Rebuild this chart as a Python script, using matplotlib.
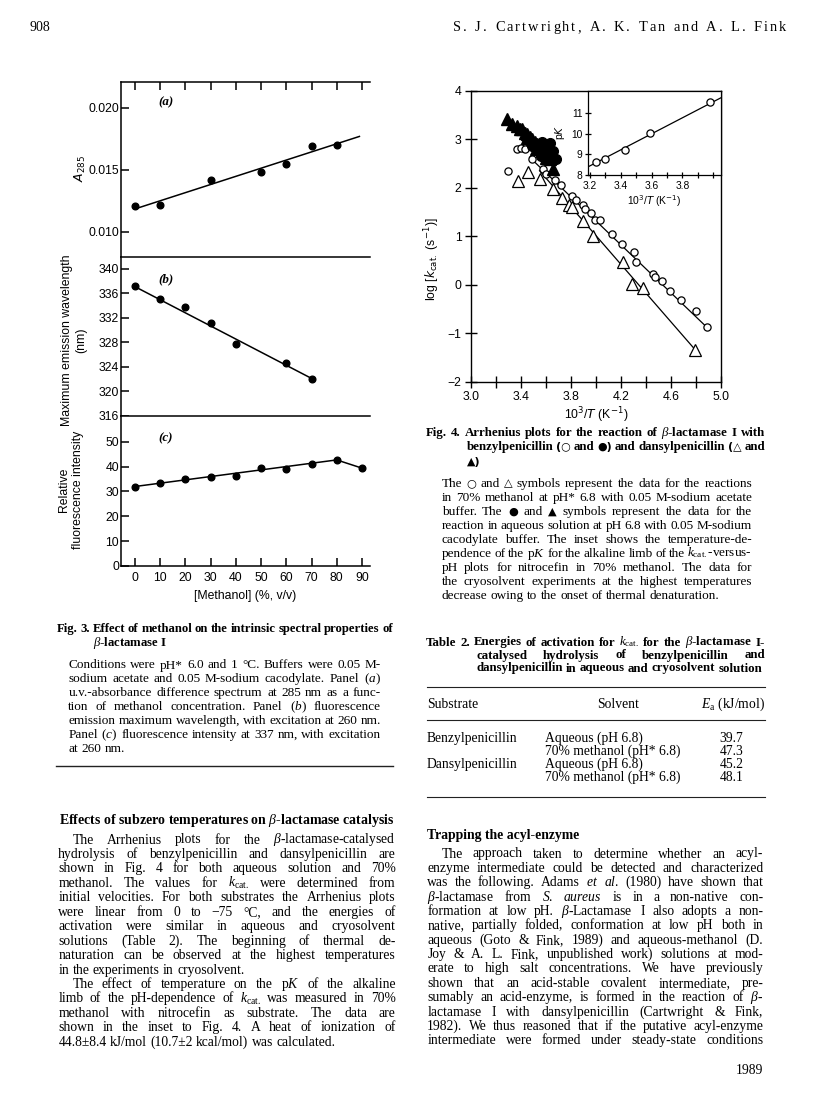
import matplotlib
matplotlib.use('Agg')
import matplotlib.pyplot as plt
from matplotlib.ticker import MultipleLocator, FixedLocator

plt.rcParams['font.family'] = 'Liberation Serif'
plt.rcParams['mathtext.fontset'] = 'custom'
plt.rcParams['mathtext.rm'] = 'Liberation Serif'
plt.rcParams['mathtext.it'] = 'Liberation Serif:italic'
plt.rcParams['mathtext.bf'] = 'Liberation Serif:bold'

W, H = 816, 1097
SANS = ['Liberation Sans', 'DejaVu Sans']
SYMBOLS = '\u25cb\u25cf\u25b3\u25b2'

############################### DATA ###############################
# Fig. 3 (a) absorbance at 285 nm
meth_a = [0, 10, 30, 50, 60, 70, 80]
a285 = [0.01207, 0.01215, 0.01414, 0.01484, 0.01548, 0.01694, 0.01700]
fit_a_x = [0, 89]
fit_a_y = [0.01185, 0.01769]
# Fig. 3 (b) emission maximum
meth_b = [0, 10, 20, 30, 40, 60, 70]
lam_max = [337.2, 335.1, 333.75, 331.1, 327.8, 324.55, 322.0]
fit_b_x = [0, 70]
fit_b_y = [337.1, 322.1]
# Fig. 3 (c) fluorescence intensity
meth_c = [0, 10, 20, 30, 40, 50, 60, 70, 80, 90]
fluor = [32.0, 33.3, 34.9, 36.0, 36.4, 39.5, 39.1, 41.2, 42.7, 39.4]
fit_c_x = [0, 80, 90]
fit_c_y = [32.0, 42.7, 39.4]
meth_ticks = [0, 10, 20, 30, 40, 50, 60, 70, 80, 90]

# Fig. 4 Arrhenius plots
benz_meoh_x = [3.298, 3.373, 3.399, 3.434, 3.487, 3.575, 3.60, 3.674, 3.72, 3.807,
               3.84, 3.895, 3.916, 3.96, 3.996, 4.033, 4.126, 4.206, 4.302, 4.323,
               4.454, 4.472, 4.531, 4.592, 4.677, 4.797, 4.885]
benz_meoh_y = [2.35, 2.79, 2.81, 2.79, 2.59, 2.38, 2.29, 2.15, 2.06, 1.82,
               1.75, 1.65, 1.56, 1.47, 1.34, 1.34, 1.04, 0.84, 0.68, 0.47,
               0.23, 0.16, 0.07, -0.14, -0.32, -0.55, -0.87]
dans_meoh_x = [3.381, 3.455, 3.554, 3.655, 3.727, 3.788, 3.807, 3.90, 3.98, 4.214,
               4.286, 4.379, 4.792]
dans_meoh_y = [2.13, 2.33, 2.18, 1.97, 1.78, 1.64, 1.60, 1.32, 1.01, 0.47,
               0.02, -0.06, -1.35]
dans_aq_x = [3.293, 3.33, 3.367, 3.39, 3.407, 3.43, 3.447, 3.47, 3.487, 3.51,
             3.527, 3.55, 3.58, 3.607, 3.634, 3.66, 3.45, 3.52, 3.60]
dans_aq_y = [3.41, 3.32, 3.28, 3.20, 3.21, 3.12, 3.10, 3.05, 3.00, 2.95,
             2.90, 2.85, 2.79, 2.69, 2.59, 2.38, 3.02, 2.80, 2.62]
benz_aq_x = [3.45, 3.49, 3.52, 3.55, 3.57, 3.60, 3.62, 3.64, 3.66, 3.68, 3.56, 3.63]
benz_aq_y = [3.00, 2.85, 2.90, 2.78, 2.95, 2.72, 2.85, 2.65, 2.75, 2.60, 2.66, 2.92]
fit_benz_x = [3.47, 4.90]
fit_benz_y = [2.63, -0.91]
fit_dans_x = [3.55, 4.80]
fit_dans_y = [2.35, -1.36]

# Fig. 4 inset: pK vs 1/T
inv_t = [3.239, 3.297, 3.43, 3.589, 3.98]
pk = [8.61, 8.77, 9.21, 10.04, 11.51]
fit_pk_x = [3.19, 4.05]
fit_pk_y = [8.40, 11.73]

# Table 2
tab_substrate = ['Benzylpenicillin', '', 'Dansylpenicillin', '']
tab_solvent = ['Aqueous (pH 6.8)', '70% methanol (pH* 6.8)',
               'Aqueous (pH 6.8)', '70% methanol (pH* 6.8)']
tab_ea = ['39.7', '47.3', '45.2', '48.1']

############################## FIGURE ##############################
fig = plt.figure(figsize=(W / 100, H / 100), dpi=100)
renderer = fig.canvas.get_renderer()


def ax_px(x0, y0, x1, y1):
    return fig.add_axes([x0 / W, 1 - y1 / H, (x1 - x0) / W, (y1 - y0) / H])


def txt(x, y, s, **kw):
    kw.setdefault('va', 'baseline')
    return fig.text(x / W, 1 - y / H, s, **kw)


def line_px(x0, x1, y, lw=0.8):
    fig.add_artist(plt.Line2D([x0 / W, x1 / W], [1 - y / H, 1 - y / H],
                              color='#222222', lw=lw))


def place_words(s, x0, x1, y, justify, size, sep=' ', **kw):
    words = s.split(' ') if sep == ' ' else list(s)
    objs = []
    for w in words:
        fam = ['DejaVu Sans'] if any(c in SYMBOLS for c in w) else 'Liberation Serif'
        fs = size * 0.85 if fam != 'Liberation Serif' else size
        objs.append(txt(0, y, w, ha='left', fontsize=fs, family=fam, **kw))
    widths = [o.get_window_extent(renderer).width for o in objs]
    if sep != ' ':
        widths = [0.3 * size * 100 / 72 if w == ' ' else wd for w, wd in zip(words, widths)]
    gap = 0.25 * size * 100 / 72 if sep == ' ' else 0
    if justify and len(words) > 1:
        gap = max((x1 - x0 - sum(widths)) / (len(words) - 1), 1.6 if sep == ' ' else 0)
    x = x0
    for o, w in zip(objs, widths):
        o.set_position((x / W, 1 - y / H))
        x += w + gap


def paragraph(lines, x0, x1, y0, dy, size, indent=14, justify_last=False, **kw):
    for i, s in enumerate(lines):
        start = x0
        if s.startswith('>'):
            s = s[1:]
            start = x0 + indent
        last = (i == len(lines) - 1) or lines[i + 1].startswith('>')
        place_words(s, start, x1, y0 + i * dy, justify_last or not last, size, **kw)


# running head
txt(30, 31, '908', fontsize=10)
place_words('S. J. Cartwright, A. K. Tan and A. L. Fink', 453, 786, 31, True, 10.4,
            sep='')

########################### FIG. 3 PANELS ##########################
fx0, fx1 = 121, 370
xlim3 = (-5.55, 93.2)
axa = ax_px(fx0, 81.7, fx1, 256.7)
axb = ax_px(fx0, 256.7, fx1, 415.7)
axc = ax_px(fx0, 415.7, fx1, 566)

axa.plot(meth_a, a285, 'o', color='black', ms=4.8)
axa.plot(fit_a_x, fit_a_y, '-', color='black', lw=1.1)
axa.set_ylim(0.008, 0.0221)
axa.set_yticks([0.010, 0.015, 0.020])
axa.set_yticklabels(['0.010', '0.015', '0.020'])

axb.plot(meth_b, lam_max, 'o', color='black', ms=4.8)
axb.plot(fit_b_x, fit_b_y, '-', color='black', lw=1.1)
axb.set_ylim(316, 342)
axb.set_yticks(range(316, 341, 4))

axc.plot(meth_c, fluor, 'o', color='black', ms=4.8)
axc.plot(fit_c_x, fit_c_y, '-', color='black', lw=1.1)
axc.set_ylim(0, 60.5)
axc.set_yticks(range(0, 51, 10))

for ax in (axa, axb, axc):
    ax.set_xlim(*xlim3)
    ax.spines['right'].set_visible(False)
    ax.spines['bottom'].set_visible(False)
    for sp in ax.spines.values():
        sp.set_linewidth(1.1)
    ax.tick_params(axis='y', direction='in', length=6, width=1.1, pad=1.5,
                   labelsize=8.8, labelfontfamily=SANS)
    ax.set_xticks(meth_ticks)
    ax.tick_params(axis='x', bottom=False, labelbottom=False)
axa.tick_params(axis='x', top=True, direction='in', length=6, width=1.1)
axc.spines['bottom'].set_visible(True)
axc.tick_params(axis='x', bottom=True, labelbottom=True, direction='in', length=6,
                width=1.1, pad=4, labelsize=8.8, labelfontfamily=SANS)

for ax, lab, yy in ((axa, '(a)', 0.88), (axb, '(b)', 0.86), (axc, '(c)', 0.85)):
    ax.text(0.15, yy, lab, transform=ax.transAxes,
            fontsize=9.4, style='italic', weight='bold', va='center')

txt(80, 168, '$A_{285}$', fontsize=9, rotation=90, ha='center', va='center',
    math_fontfamily='dejavusans')
txt(74, 340, 'Maximum emission wavelength\n(nm)', fontsize=8.8, rotation=90,
    ha='center', va='center', family=SANS, linespacing=1.3)
txt(71, 490, 'Relative\nfluorescence intensity', fontsize=8.8, rotation=90,
    ha='center', va='center', family=SANS, linespacing=1.3)
txt(245, 599, '[Methanol] (%, v/v)', fontsize=8.8, ha='center', family=SANS)

########################### FIG. 4 #################################
ax4 = ax_px(470.7, 90.7, 721, 381.7)
ax4.plot(fit_benz_x, fit_benz_y, '-', color='black', lw=0.9)
ax4.plot(fit_dans_x, fit_dans_y, '-', color='black', lw=0.9)
ax4.plot(benz_meoh_x, benz_meoh_y, 'o', mfc='white', mec='black', mew=0.9, ms=5.2)
ax4.plot(dans_meoh_x, dans_meoh_y, '^', mfc='white', mec='black', mew=0.9, ms=8.5)
ax4.plot(dans_aq_x, dans_aq_y, '^', color='black', ms=9)
ax4.plot(benz_aq_x, benz_aq_y, 'o', color='black', ms=7)
ax4.set_xlim(3.0, 5.0)
ax4.set_ylim(-2, 4)
ax4.xaxis.set_major_locator(FixedLocator([3.0, 3.4, 3.8, 4.2, 4.6, 5.0]))
ax4.xaxis.set_minor_locator(MultipleLocator(0.2))
ax4.set_xticklabels(['3.0', '3.4', '3.8', '4.2', '4.6', '5.0'])
ax4.set_yticks(range(-2, 5))
ax4.set_yticklabels(['\u22122', '\u22121', '0', '1', '2', '3', '4'])
ax4.tick_params(which='both', direction='inout', length=9, width=1.0,
                labelsize=8.8, labelfontfamily=SANS, pad=2)
for sp in ax4.spines.values():
    sp.set_linewidth(1.0)
ax4.set_ylabel('log [$k_{\\mathrm{cat.}}$ (s$^{-1}$)]', fontsize=8.8, family=SANS,
               math_fontfamily='dejavusans')
ax4.yaxis.set_label_coords(-0.115, 0.42)
ax4.set_xlabel('10$^3$/$T$ (K$^{-1}$)', fontsize=8.8, family=SANS,
               math_fontfamily='dejavusans', labelpad=2)

ins = ax_px(588.3, 90.7, 721, 175)
ins.plot(fit_pk_x, fit_pk_y, '-', color='black', lw=0.9)
ins.plot(inv_t, pk, 'o', mfc='white', mec='black', mew=0.9, ms=5.2)
ins.set_xlim(3.19, 4.05)
ins.set_ylim(8, 12.07)
ins.xaxis.set_major_locator(FixedLocator([3.2, 3.4, 3.6, 3.8]))
ins.xaxis.set_minor_locator(MultipleLocator(0.1))
ins.set_xticklabels(['3.2', '3.4', '3.6', '3.8'])
ins.set_yticks([8, 9, 10, 11])
ins.tick_params(which='both', direction='inout', length=5, width=0.9,
                labelsize=7.4, labelfontfamily=SANS, pad=1.5)
for sp in ins.spines.values():
    sp.set_linewidth(0.9)
ins.set_ylabel('p$K$', fontsize=7.4, family=SANS, math_fontfamily='dejavusans',
               labelpad=3)
ins.set_xlabel('10$^3$/$T$ (K$^{-1}$)', fontsize=7.4, family=SANS,
               math_fontfamily='dejavusans', labelpad=2)

############################ CAPTIONS ##############################
paragraph(['Fig. 3. Effect of methanol on the intrinsic spectral properties of'],
          57, 393, 632, 14, 9.2, weight='bold', justify_last=True)
txt(93, 646, '$\\beta$-lactamase I', fontsize=9.2, weight='bold')
paragraph(['Conditions were pH* 6.0 and 1 \u00b0C. Buffers were 0.05 M-',
           'sodium acetate and 0.05 M-sodium cacodylate. Panel ($a$)',
           'u.v.-absorbance difference spectrum at 285 nm as a func-',
           'tion of methanol concentration. Panel ($b$) fluorescence',
           'emission maximum wavelength, with excitation at 260 nm.',
           'Panel ($c$) fluorescence intensity at 337 nm, with excitation',
           'at 260 nm.'], 68.3, 380.7, 668.5, 13.9, 9.5)
line_px(56, 393, 766, lw=1.0)

paragraph(['Fig. 4. Arrhenius plots for the reaction of $\\beta$-lactamase I with'],
          426, 765, 436, 14.4, 9.3, weight='bold', justify_last=True)
paragraph(['benzylpenicillin (\u25cb and \u25cf) and dansylpenicillin (\u25b3 and'],
          466.7, 765, 450.4, 14.4, 9.3, weight='bold', justify_last=True)
place_words('\u25b2)', 466.7, 765, 464.8, False, 9.3, weight='bold')
paragraph(['The \u25cb and \u25b3 symbols represent the data for the reactions',
           'in 70% methanol at pH* 6.8 with 0.05 M-sodium acetate',
           'buffer. The \u25cf and \u25b2 symbols represent the data for the',
           'reaction in aqueous solution at pH 6.8 with 0.05 M-sodium',
           'cacodylate buffer. The inset shows the temperature-de-',
           'pendence of the p$K$ for the alkaline limb of the $k_{\\mathrm{cat.}}$-versus-',
           'pH plots for nitrocefin in 70% methanol. The data for',
           'the cryosolvent experiments at the highest temperatures',
           'decrease owing to the onset of thermal denaturation.'],
          441.7, 752.3, 486.7, 14.0, 9.5)

############################# TABLE 2 ##############################
paragraph(['Table 2. Energies of activation for $k_{\\mathrm{cat.}}$ for the $\\beta$-lactamase I-'],
          426, 765, 645.5, 13, 9.3, weight='bold', justify_last=True)
paragraph(['catalysed hydrolysis of benzylpenicillin and',
           'dansylpenicillin in aqueous and cryosolvent solution'],
          476, 765, 658.5, 13, 9.3, weight='bold')
line_px(427, 765, 686.7)
txt(427, 708, 'Substrate', fontsize=9.8)
txt(618, 708, 'Solvent', fontsize=9.8, ha='center')
txt(765, 708, '$E_{\\mathrm{a}}$ (kJ/mol)', fontsize=9.8, ha='right')
line_px(427, 765, 720)
row_y = [742, 755, 768, 781]
for sub, sol, ea, y in zip(tab_substrate, tab_solvent, tab_ea, row_y):
    txt(427, y, sub, fontsize=9.8)
    txt(545, y, sol, fontsize=9.8)
    txt(743.3, y, ea, fontsize=9.8, ha='right')
line_px(427, 765, 796.7)

############################# BODY TEXT ############################
txt(59, 824, 'Effects of subzero temperatures on $\\beta$-lactamase catalysis',
    fontsize=10, weight='bold')
paragraph(['>The Arrhenius plots for the $\\beta$-lactamase-catalysed',
           'hydrolysis of benzylpenicillin and dansylpenicillin are',
           'shown in Fig. 4 for both aqueous solution and 70%',
           'methanol. The values for $k_{\\mathrm{cat.}}$ were determined from',
           'initial velocities. For both substrates the Arrhenius plots',
           'were linear from 0 to \u221275 \u00b0C, and the energies of',
           'activation were similar in aqueous and cryosolvent',
           'solutions (Table 2). The beginning of thermal de-',
           'naturation can be observed at the highest temperatures',
           'in the experiments in cryosolvent.',
           '>The effect of temperature on the p$K$ of the alkaline',
           'limb of the pH-dependence of $k_{\\mathrm{cat.}}$ was measured in 70%',
           'methanol with nitrocefin as substrate. The data are',
           'shown in the inset to Fig. 4. A heat of ionization of',
           '44.8\u00b18.4 kJ/mol (10.7\u00b12 kcal/mol) was calculated.'],
          58.3, 395.7, 843.5, 14.45, 9.8)

txt(427, 839, 'Trapping the acyl-enzyme', fontsize=9.9, weight='bold')
paragraph(['>The approach taken to determine whether an acyl-',
           'enzyme intermediate could be detected and characterized',
           'was the following. Adams $et$ $al.$ (1980) have shown that',
           '$\\beta$-lactamase from $S.$ $aureus$ is in a non-native con-',
           'formation at low pH. $\\beta$-Lactamase I also adopts a non-',
           'native, partially folded, conformation at low pH both in',
           'aqueous (Goto & Fink, 1989) and aqueous-methanol (D.',
           'Joy & A. L. Fink, unpublished work) solutions at mod-',
           'erate to high salt concentrations. We have previously',
           'shown that an acid-stable covalent intermediate, pre-',
           'sumably an acid-enzyme, is formed in the reaction of $\\beta$-',
           'lactamase I with dansylpenicillin (Cartwright & Fink,',
           '1982). We thus reasoned that if the putative acyl-enzyme',
           'intermediate were formed under steady-state conditions'],
          427.3, 763.3, 857.5, 14.37, 9.8, justify_last=True)
txt(763.3, 1074, '1989', fontsize=9.8, ha='right')

fig.savefig('out.png', dpi=100)
